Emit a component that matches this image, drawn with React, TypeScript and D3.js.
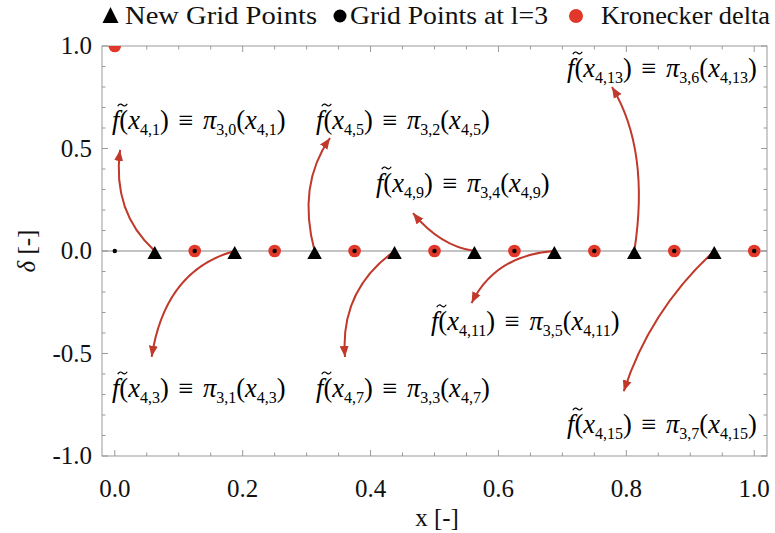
import React from "react";
import * as d3 from "d3";

// Level-4 points that are new relative to level 3
const newGridX = [0.0625, 0.1875, 0.3125, 0.4375, 0.5625, 0.6875, 0.8125, 0.9375];
const newGridY = [0, 0, 0, 0, 0, 0, 0, 0];

// Level-3 grid points
const levelThreeX = [0, 0.125, 0.25, 0.375, 0.5, 0.625, 0.75, 0.875, 1];
const levelThreeY = [0, 0, 0, 0, 0, 0, 0, 0, 0];

// Kronecker delta evaluated on the level-3 grid (node at x = 0)
const kroneckerX = [0, 0.125, 0.25, 0.375, 0.5, 0.625, 0.75, 0.875, 1];
const kroneckerY = [1, 0, 0, 0, 0, 0, 0, 0, 0];

const xTickValues = [0, 0.2, 0.4, 0.6, 0.8, 1.0];
const xTickLabels = ["0.0", "0.2", "0.4", "0.6", "0.8", "1.0"];
const yTickValues = [-1, -0.5, 0, 0.5, 1];
const yTickLabels = ["-1.0", "-0.5", "0.0", "0.5", "1.0"];

// Annotation text: f~(x_{4,i}) = pi_{3,j}(x_{4,i})
const noteNodeSub = ["4,1", "4,3", "4,5", "4,7", "4,9", "4,11", "4,13", "4,15"];
const notePiSub = ["3,0", "3,1", "3,2", "3,3", "3,4", "3,5", "3,6", "3,7"];

// Annotation placement (data coordinates)
const noteLabelX = [-0.0044, -0.0044, 0.3147, 0.3147, 0.4085, 0.4945, 0.7073, 0.7073];
const noteLabelY = [0.595, -0.712, 0.595, -0.712, 0.288, -0.385, 0.849, -0.888];
const noteTipX = [0.0082, 0.0577, 0.3366, 0.36, 0.4664, 0.558, 0.7776, 0.796];
const noteTipY = [0.493, -0.516, 0.551, -0.517, 0.185, -0.254, 0.8, -0.684];
const noteBendX = [-0.0044, 0.0785, 0.285, 0.352, 0.509, 0.595, 0.837, 0.837];
const noteBendY = [0.19, -0.093, 0.322, -0.19, 0.024, -0.02, 0.493, -0.288];

const legendLabels = ["New Grid Points", "Grid Points at l=3", "Kronecker delta"];

const W = 775;
const H = 533;
const FONT = "'Liberation Serif', 'Times New Roman', serif";
const ARROW = "#c0392b";
const RED = "#e2372b";

const x = d3.scaleLinear().domain([-0.02, 1.02]).range([102, 767]);
const y = d3.scaleLinear().domain([-1, 1]).range([456, 46]);

const trianglePath = (cx: number, cy: number) =>
  `M${cx},${cy - 5}L${cx + 7.3},${cy + 8}L${cx - 7.3},${cy + 8}Z`;

const tildePath = (cx: number, cy: number, w: number) =>
  `M${cx - w / 2},${cy + 1.2}Q${cx - w / 4},${cy - 2.4} ${cx},${cy}T${cx + w / 2},${cy - 1.2}`;

function MathNote({ i }: { i: number }) {
  const px = x(noteLabelX[i]);
  const py = y(noteLabelY[i]);
  const fs = 26.5;
  const ss = 16;
  const dy = 6;
  return (
    <g>
      <path d={tildePath(px + 10.5, py - 24, 9.5)} fill="none" stroke="#000" strokeWidth={1.2} />
      <text x={px} y={py} fontFamily={FONT} fontSize={fs} fill="#000">
        <tspan fontStyle="italic">f</tspan>
        <tspan>(</tspan>
        <tspan fontStyle="italic">x</tspan>
        <tspan fontSize={ss} dy={dy}>{noteNodeSub[i]}</tspan>
        <tspan dy={-dy}>{")\u00a0"}</tspan>
        <tspan dx={3}>{"\u2261\u00a0"}</tspan>
        <tspan dx={3} fontStyle="italic">π</tspan>
        <tspan fontSize={ss} dy={dy}>{notePiSub[i]}</tspan>
        <tspan dy={-dy}>(</tspan>
        <tspan fontStyle="italic">x</tspan>
        <tspan fontSize={ss} dy={dy}>{noteNodeSub[i]}</tspan>
        <tspan dy={-dy}>)</tspan>
      </text>
    </g>
  );
}

export default function App() {
  const minorX = d3.range(0, 1.0001, 0.05);
  const minorY = d3.range(-1, 1.0001, 0.1);
  const isMajor = (v: number, step: number) => Math.abs(v / step - Math.round(v / step)) < 1e-6;
  const [x0, x1] = x.range();
  const [yb, yt] = y.range();

  const arrows = newGridX.map((gx, i) => {
    const p = d3.path();
    p.moveTo(x(gx), y(newGridY[i]));
    p.quadraticCurveTo(x(noteBendX[i]), y(noteBendY[i]), x(noteTipX[i]), y(noteTipY[i]));
    return p.toString();
  });

  return (
    <svg
      width={W}
      height={H}
      style={{ position: "absolute", left: 0, top: 0, background: "#fff" }}
    >
      <defs>
        <clipPath id="plotArea">
          <rect x={x0} y={yt} width={x1 - x0} height={yb - yt} />
        </clipPath>
        <marker
          id="head"
          markerUnits="userSpaceOnUse"
          markerWidth={12}
          markerHeight={10}
          refX={11}
          refY={5}
          orient="auto"
        >
          <path d="M0,0.5L11,5L0,9.5Z" fill={ARROW} />
        </marker>
      </defs>

      <rect width={W} height={H} fill="#fff" />

      {/* frame */}
      <rect x={x0} y={yt} width={x1 - x0} height={yb - yt} fill="none" stroke="#999" strokeWidth={1} />

      {/* x ticks, bottom and top */}
      {minorX.map((v) => {
        const len = isMajor(v, 0.2) ? 6 : 3.5;
        return (
          <g key={`xt${v}`} stroke="#999" strokeWidth={1}>
            <line x1={x(v)} x2={x(v)} y1={yb} y2={yb - len} />
            <line x1={x(v)} x2={x(v)} y1={yt} y2={yt + len} />
          </g>
        );
      })}
      {/* y ticks, left and right */}
      {minorY.map((v) => {
        const len = isMajor(v, 0.5) ? 6 : 3.5;
        return (
          <g key={`yt${v}`} stroke="#999" strokeWidth={1}>
            <line x1={x0} x2={x0 + len} y1={y(v)} y2={y(v)} />
            <line x1={x1} x2={x1 - len} y1={y(v)} y2={y(v)} />
          </g>
        );
      })}

      {xTickValues.map((v, i) => (
        <text key={`xl${i}`} x={x(v)} y={497} textAnchor="middle" fontFamily={FONT} fontSize={25} fill="#111">
          {xTickLabels[i]}
        </text>
      ))}
      {yTickValues.map((v, i) => (
        <text key={`yl${i}`} x={92} y={y(v) + 8} textAnchor="end" fontFamily={FONT} fontSize={25} fill="#111">
          {yTickLabels[i]}
        </text>
      ))}

      <text x={437} y={526} textAnchor="middle" fontFamily={FONT} fontSize={25} fill="#111">
        x [-]
      </text>
      <text transform={`translate(35,${y(0)}) rotate(-90)`} textAnchor="middle" fontFamily={FONT} fontSize={25} fill="#111">
        <tspan fontStyle="italic">δ</tspan> [-]
      </text>

      {/* zero line */}
      <line x1={x0} x2={x1} y1={y(0)} y2={y(0)} stroke="#888" strokeWidth={1.2} />

      {/* annotation arrows */}
      {arrows.map((d, i) => (
        <path key={`ar${i}`} d={d} fill="none" stroke={ARROW} strokeWidth={2} markerEnd="url(#head)" />
      ))}

      <g clipPath="url(#plotArea)">
        {kroneckerX.map((v, i) => (
          <circle key={`k${i}`} cx={x(v)} cy={y(kroneckerY[i])} r={6.3} fill={RED} />
        ))}
        {levelThreeX.map((v, i) => (
          <circle key={`g${i}`} cx={x(v)} cy={y(levelThreeY[i])} r={2.2} fill="#000" />
        ))}
        {newGridX.map((v, i) => (
          <path key={`n${i}`} d={trianglePath(x(v), y(newGridY[i]))} fill="#000" />
        ))}
      </g>

      {noteNodeSub.map((_, i) => (
        <MathNote key={`m${i}`} i={i} />
      ))}

      {/* legend */}
      <g fontFamily={FONT} fontSize={26} fill="#111">
        <path d="M110.5,7L118.5,23L102.5,23Z" fill="#000" />
        <text x={125} y={24} textLength={192} lengthAdjust="spacingAndGlyphs">{legendLabels[0]}</text>
        <circle cx={340} cy={16} r={6.5} fill="#000" />
        <text x={350} y={24} textLength={198} lengthAdjust="spacingAndGlyphs">{legendLabels[1]}</text>
        <circle cx={576} cy={16} r={7} fill={RED} />
        <text x={601} y={24} textLength={169} lengthAdjust="spacingAndGlyphs">{legendLabels[2]}</text>
      </g>
    </svg>
  );
}
